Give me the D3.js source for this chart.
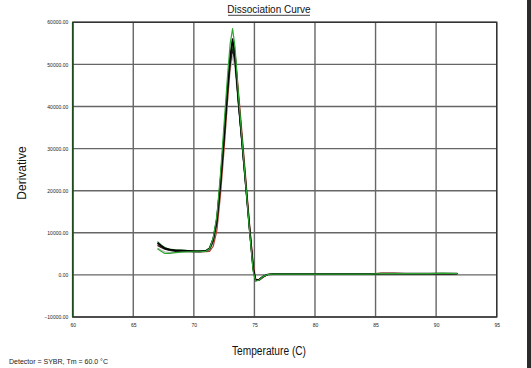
<!DOCTYPE html>
<html><head><meta charset="utf-8">
<script src="https://cdn.jsdelivr.net/npm/d3@7"></script>
<style>body{margin:0;background:#fff}svg{display:block}text{font-family:Arial,"Liberation Sans",sans-serif}</style>
</head><body>
<svg id="c" width="531" height="368"></svg>
<script>
const title = "Dissociation Curve";
const xLabel = "Temperature (C)";
const yLabel = "Derivative";
const footer = "Detector = SYBR, Tm = 60.0 °C";
const xTicks = [60, 65, 70, 75, 80, 85, 90, 95];
const yTicks = [-10000, 0, 10000, 20000, 30000, 40000, 50000, 60000];
const temps = [67.0, 67.3, 67.6, 68.0, 68.5, 69.0, 69.5, 70.0, 70.5, 71.0, 71.3, 71.6, 71.9, 72.2, 72.5, 72.8, 73.0, 73.2, 73.4, 73.7, 74.0, 74.3, 74.6, 74.9, 75.1, 75.4, 75.7, 76.1, 76.6, 77.5, 78.5, 79.5, 80.5, 81.5, 82.5, 83.5, 84.5, 85.5, 86.5, 87.5, 88.5, 89.5, 90.5, 91.75];
const seriesNames = ["gray", "red", "darkgreen", "black2", "black", "green"];
const seriesColors = ["#b8b8b8", "#b23a32", "#0b6a1a", "#202020", "#000000", "#2fa832"];
const sGray = [6400, 5900, 5500, 5300, 5400, 5500, 5500, 5500, 5500, 5600, 5900, 7600, 11500, 20500, 31000, 42000, 48500, 52000, 49000, 39500, 30000, 20500, 11000, 1800, -1200, -1200, -500, 100, 200, 200, 200, 200, 200, 200, 200, 200, 200, 300, 300, 300, 300, 300, 300, 300];
const sRed = [7200, 6700, 6300, 6000, 5900, 5800, 5700, 5600, 5500, 5500, 5600, 6800, 10500, 19000, 30000, 42000, 50000, 55000, 53000, 43000, 33000, 22500, 12000, 2500, -1000, -1300, -600, 100, 200, 200, 200, 200, 200, 200, 200, 200, 200, 400, 400, 300, 300, 300, 300, 300];
const sDarkGreen = [7900, 7100, 6500, 6100, 5900, 5900, 5800, 5700, 5700, 5800, 6400, 8600, 13500, 23000, 34000, 45500, 51500, 54000, 51000, 40500, 30500, 20500, 10500, 1200, -1400, -1100, -400, 100, 200, 200, 200, 200, 200, 200, 200, 200, 200, 300, 300, 300, 300, 300, 300, 300];
const sBlack2 = [7000, 6500, 6100, 5800, 5600, 5600, 5500, 5500, 5500, 5600, 6100, 8000, 12500, 21500, 32500, 44000, 50000, 53500, 50500, 40000, 30500, 21000, 11000, 1600, -1300, -1200, -500, 100, 200, 200, 200, 200, 200, 200, 200, 200, 200, 300, 300, 300, 300, 300, 300, 300];
const sBlack = [7600, 6900, 6300, 6000, 5800, 5800, 5700, 5600, 5600, 5700, 6300, 8500, 13000, 22000, 33000, 45000, 52000, 56000, 52000, 41000, 31000, 21000, 11000, 1500, -1300, -1100, -400, 100, 200, 200, 200, 200, 200, 200, 200, 200, 200, 300, 300, 300, 300, 300, 300, 300];
const sGreen = [6200, 5600, 5100, 5100, 5300, 5400, 5500, 5500, 5500, 5600, 6200, 8800, 14000, 24000, 36000, 48000, 55000, 58500, 54000, 42000, 31500, 21000, 10500, 800, -1500, -1200, -400, 100, 200, 200, 200, 200, 200, 200, 200, 200, 200, 300, 300, 300, 300, 300, 400, 300];
const seriesValues = [sGray, sRed, sDarkGreen, sBlack2, sBlack, sGreen];

const svg = d3.select("#c");
const L = 72.7, R = 496.7, T = 22.3, B = 317;
const x = d3.scaleLinear().domain([60, 95]).range([L, R]);
const y = d3.scaleLinear().domain([-10000, 60000]).range([B, T]);

svg.append("rect").attr("x", 527).attr("y", 0).attr("width", 4).attr("height", 368).attr("fill", "#2b2b2b");

const g = svg.append("g");
g.selectAll("line.vx").data(xTicks).join("line")
  .attr("x1", d => x(d)).attr("x2", d => x(d)).attr("y1", T).attr("y2", B)
  .attr("stroke", "#666").attr("stroke-width", 1.4);
g.selectAll("line.hy").data(yTicks).join("line")
  .attr("y1", d => y(d)).attr("y2", d => y(d)).attr("x1", L).attr("x2", R)
  .attr("stroke", "#666").attr("stroke-width", 1.4);
svg.append("rect").attr("x", L).attr("y", T).attr("width", R - L).attr("height", B - T)
  .attr("fill", "none").attr("stroke", "#333").attr("stroke-width", 1.4);
svg.append("line").attr("x1", L).attr("x2", L).attr("y1", T).attr("y2", B).attr("stroke", "#1d4d1d").attr("stroke-width", 1.6);

const yAx = svg.append("g").attr("transform", `translate(${L},0)`)
  .call(d3.axisLeft(y).tickValues(yTicks).tickSize(0).tickPadding(4.5).tickFormat(d3.format(".2f")));
yAx.select(".domain").remove();
yAx.selectAll("text").attr("font-size", 5).attr("fill", "#222").attr("font-family", "Arial, 'Liberation Sans', sans-serif");
const xAx = svg.append("g").attr("transform", `translate(0,${B})`)
  .call(d3.axisBottom(x).tickValues(xTicks).tickSize(0).tickPadding(6).tickFormat(d3.format("d")));
xAx.select(".domain").remove();
xAx.selectAll("text").attr("font-size", 5).attr("fill", "#222").attr("font-family", "Arial, 'Liberation Sans', sans-serif");

const line = d3.line().x((d, i) => x(temps[i])).y(d => y(d));
svg.append("g").selectAll("path").data(seriesValues).join("path")
  .attr("d", d => line(d)).attr("fill", "none")
  .attr("stroke", (d, i) => seriesColors[i])
  .attr("stroke-width", (d, i) => seriesNames[i] === "black" ? 1.7 : 1.2)
  .attr("stroke-linejoin", "round");

svg.append("text").attr("x", 269).attr("y", 13).attr("text-anchor", "middle").attr("font-size", 10).attr("fill", "#111").text(title);
svg.append("line").attr("x1", 228).attr("x2", 310).attr("y1", 15.3).attr("y2", 15.3).attr("stroke", "#111").attr("stroke-width", 0.8);
svg.append("text").attr("transform", "translate(26,173) rotate(-90)").attr("text-anchor", "middle").attr("font-size", 12).attr("fill", "#111").text(yLabel);
svg.append("text").attr("x", 232).attr("y", 355).attr("font-size", 12.5).attr("textLength", 74).attr("lengthAdjust", "spacingAndGlyphs").attr("fill", "#111").text(xLabel);
svg.append("text").attr("x", 9).attr("y", 364).attr("font-size", 7.5).attr("textLength", 99).attr("lengthAdjust", "spacingAndGlyphs").attr("fill", "#222").text(footer);
</script>
</body></html>
